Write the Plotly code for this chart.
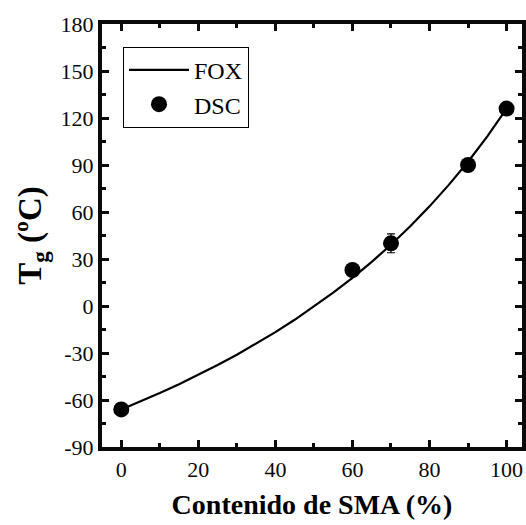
import plotly.graph_objects as go

# FOX curve
fox_x = [0, 5, 10, 15, 20, 25, 30, 35, 40, 45, 50, 55, 60, 65, 70, 75, 80, 85, 90, 95, 100]
fox_y = [-66, -60.9, -55.5, -49.9, -44.0, -37.7, -31.1, -24.1, -16.7, -8.8, -0.4,
         8.5, 18.0, 28.2, 39.1, 50.9, 63.6, 77.3, 92.1, 108.3, 126]

# DSC measurements
dsc_x = [0, 60, 70, 90, 100]
dsc_y = [-66, 23, 40, 90, 126]
dsc_err = [0, 0, 6, 0, 0]

x_ticks = [0, 20, 40, 60, 80, 100]
x_minor = [10, 30, 50, 70, 90]
y_ticks = [-90, -60, -30, 0, 30, 60, 90, 120, 150, 180]
y_ticklabels = ["-90", "-60", "-30", "0", "30", "60", "90", "120", "150", "180"]
y_minor = [-75, -45, -15, 15, 45, 75, 105, 135, 165]

X_RANGE = [-5, 104]
Y_RANGE = [-90, 180]

FONT = "Liberation Serif"
INK = "#0a0a0a"

fig = go.Figure()
fig.add_trace(go.Scatter(x=fox_x, y=fox_y, mode="lines", name="FOX",
                         line=dict(color="black", width=2.2)))
fig.add_trace(go.Scatter(x=dsc_x, y=dsc_y, mode="markers", name="DSC",
                         marker=dict(color="black", size=16, symbol="circle"),
                         error_y=dict(type="data", array=dsc_err, visible=True,
                                      color="black", thickness=1.2, width=4)))
# helper trace carrying the minor-tick axes
fig.add_trace(go.Scatter(x=dsc_x, y=dsc_y, xaxis="x2", yaxis="y2", mode="markers",
                         marker=dict(opacity=0), showlegend=False, hoverinfo="skip"))


def axis(**kw):
    d = dict(
        showline=True, linecolor=INK, linewidth=4, mirror="allticks",
        ticks="inside", ticklen=7, tickwidth=3, tickcolor=INK,
        showgrid=False, zeroline=False,
        tickfont=dict(family=FONT, size=22, color=INK),
    )
    d.update(kw)
    return d


def minor_axis(**kw):
    d = dict(
        showline=False, mirror="allticks",
        ticks="inside", ticklen=4, tickwidth=3, tickcolor=INK,
        showgrid=False, zeroline=False, showticklabels=False,
    )
    d.update(kw)
    return d


fig.update_layout(
    template="none",
    width=526, height=525,
    margin=dict(l=102, r=4, t=24, b=78),
    paper_bgcolor="white", plot_bgcolor="white",
    showlegend=True,
    xaxis=axis(range=X_RANGE, tickvals=x_ticks, ticktext=[str(v) for v in x_ticks],
               title=dict(text="<b>Contenido de SMA (%)</b>",
                          font=dict(family=FONT, size=28, color="black"), standoff=14)),
    yaxis=axis(range=Y_RANGE, tickvals=y_ticks, ticktext=y_ticklabels,
               title=dict(text="<b>T<sub>g</sub> (ºC)</b>",
                          font=dict(family=FONT, size=33, color="black"), standoff=10)),
    xaxis2=minor_axis(range=X_RANGE, tickvals=x_minor, overlaying="x", side="bottom",
                      anchor="y2"),
    yaxis2=minor_axis(range=Y_RANGE, tickvals=y_minor, overlaying="y", side="left",
                      anchor="x2"),
    legend=dict(x=0.05, y=0.946, xanchor="left", yanchor="top",
                bordercolor="black", borderwidth=1, bgcolor="white",
                font=dict(family=FONT, size=24, color="black"),
                itemwidth=60, tracegroupgap=4),
)

fig.write_html("out.html")
